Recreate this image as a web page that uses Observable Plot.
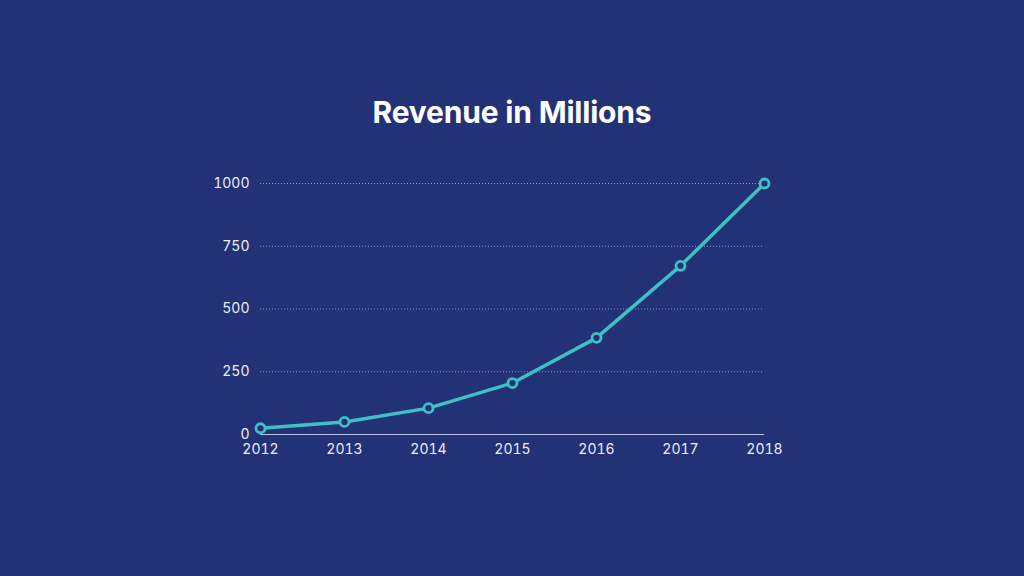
<!DOCTYPE html>
<html>
<head>
<meta charset="utf-8">
<script src="https://cdn.jsdelivr.net/npm/d3@7"></script>
<script src="https://cdn.jsdelivr.net/npm/@observablehq/plot@0.6"></script>
<style>
  html, body { margin: 0; padding: 0; background: #233176; }
  #wrap { width: 1024px; height: 576px; overflow: hidden; background: #233176; }
  #title {
    height: 140px; box-sizing: border-box; padding-top: 95px;
    text-align: center; color: #ffffff;
    font-family: Inter, "Open Sans", sans-serif; font-weight: 700; font-size: 30px;
    line-height: 34px; letter-spacing: -0.2px;
  }
</style>
</head>
<body>
<div id="wrap">
  <div id="title">Revenue in Millions</div>
  <div id="chart"></div>
</div>
<script>
// Annual revenue, in millions
const years = [2012, 2013, 2014, 2015, 2016, 2017, 2018];
const revenue = [25, 50, 105, 205, 385, 672, 1000];
const yTicks = [0, 250, 500, 750, 1000];

const data = years.map((year, i) => ({year, value: revenue[i]}));

const bg = "#233176";
const teal = "#3ec0c6";
const textColor = "#eceef8";

const chart = Plot.plot({
  width: 1024,
  height: 436,
  marginLeft: 260,
  marginRight: 260,
  marginTop: 43,
  marginBottom: 142,
  style: {background: bg, fontFamily: "Inter, 'Open Sans', sans-serif", fontSize: "14px", color: textColor},
  x: {domain: [years[0], years[years.length - 1]], label: null},
  y: {domain: [0, 1000], label: null},
  marks: [
    Plot.ruleY(yTicks.filter(d => d > 0), {stroke: "#a9b3de", strokeOpacity: 0.8, strokeWidth: 1, strokeDasharray: "1,2"}),
    Plot.ruleY([0], {stroke: "#b7bfe6", strokeWidth: 1}),
    Plot.axisX({ticks: years, tickFormat: d => String(d), tickSize: 0, tickPadding: 10, fill: textColor, label: null, fontSize: 14}),
    Plot.axisY({ticks: yTicks, tickFormat: d => String(d), tickSize: 0, tickPadding: 11, fill: textColor, label: null, fontSize: 14}),
    Plot.line(data, {x: "year", y: "value", stroke: teal, strokeWidth: 3.5}),
    Plot.dot(data, {x: "year", y: "value", r: 4.5, stroke: teal, strokeWidth: 2.8, fill: bg})
  ]
});
document.getElementById("chart").appendChild(chart);
</script>
</body>
</html>
